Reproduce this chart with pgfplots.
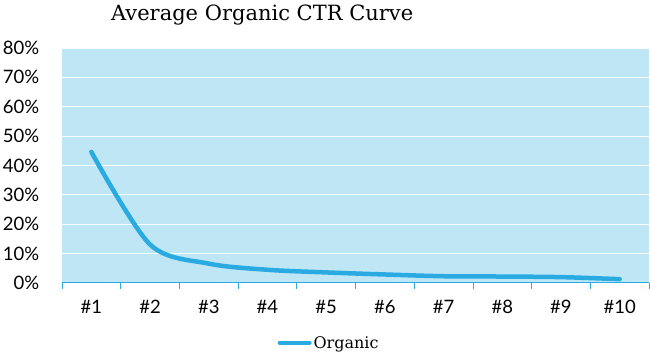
\documentclass[border=0pt]{standalone}
\usepackage{pgfplots}
\pgfplotsset{compat=1.18}
\usepackage{fontspec}
\setmainfont{Lato}
\newfontfamily\slab{DejaVu Serif}
\definecolor{bg}{HTML}{BEE6F5}
\definecolor{ln}{HTML}{29ABE2}
\begin{document}
\begin{tikzpicture}[x=1pt,y=1pt]
\useasboundingbox (-62,-72) rectangle (588,283);
\begin{axis}[at={(0,0)}, anchor=south west, scale only axis, width=587pt, height=235pt,
  xmin=0.5, xmax=10.5, ymin=0, ymax=80,
  axis background/.style={fill=bg},
  axis x line*=bottom, axis y line*=left,
  x axis line style={ln, line width=1pt, -},
  y axis line style={draw=none},
  ytick={0,10,...,80},
  yticklabel={\pgfmathprintnumber{\tick}\%},
  ymajorgrids, grid style={white, line width=0.8pt},
  major y tick style={draw=none},
  xtick={1,...,10},
  xticklabels={\#1,\#2,\#3,\#4,\#5,\#6,\#7,\#8,\#9,\#10},
  major x tick style={draw=none},
  minor xtick={0.5,1.5,...,10.5},
  minor x tick style={ln, line width=0.8pt},
  minor tick length=6pt, tick align=outside,
  ticklabel style={font=\fontsize{18.5}{18.5}\selectfont},
  /pgf/number format/assume math mode=true,
  y tick label style={xshift=-15pt},
  x tick label style={yshift=-9pt},
  title={Average Organic CTR Curve},
  title style={at={(axis description cs:0.341,1)}, font=\slab\fontsize{21}{21}\selectfont, yshift=13pt},
  legend style={at={(axis description cs:0.455,0)}, anchor=north, yshift=-49pt, draw=none, fill=none, font=\slab\fontsize{16}{16}\selectfont},
  legend image code/.code={\draw[ln, line width=4pt] (0pt,0pt) -- (30pt,0pt);},
]
\addplot[ln, line width=4.5pt, smooth, tension=0.5, line cap=round] coordinates {
(1,44.6) (2,13.1) (3,6.6) (4,4.5) (5,3.6) (6,2.9) (7,2.3) (8,2.2) (9,2.0) (10,1.3)};
\addlegendentry{Organic}
\end{axis}
\end{tikzpicture}
\end{document}
